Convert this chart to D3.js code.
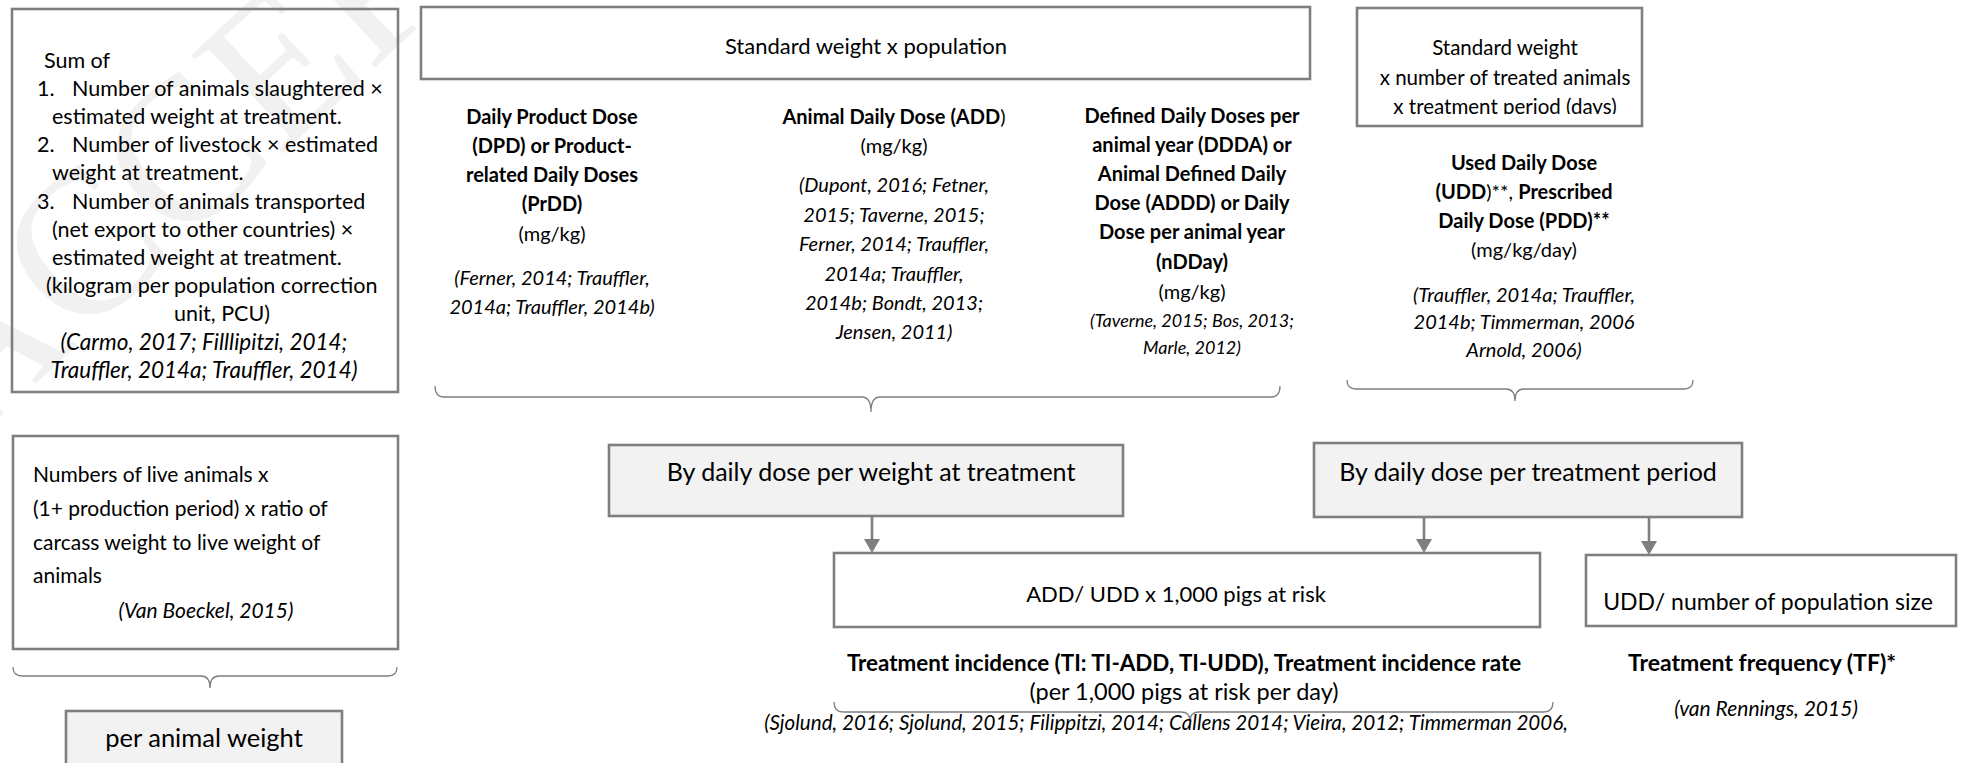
<!DOCTYPE html>
<html>
<head>
<meta charset="utf-8">
<script src="https://cdn.jsdelivr.net/npm/d3@7"></script>
<style>
  html, body { margin: 0; padding: 0; background: #fff; }
  svg { display: block; }
  text { font-family: Lato, "Open Sans", sans-serif; fill: #000; }
</style>
</head>
<body>
<svg id="diagram"></svg>
<script>
// ---- content (text only) ----
// each line: runs separated by "~", each run is "style|text" (b bold, r regular, i italic, s small italic)
const sumOfLines = [
    ['', 'Sum of'],
    ['1.', 'Number of animals slaughtered ×'],
    ['', 'estimated weight at treatment.'],
    ['2.', 'Number of livestock × estimated'],
    ['', 'weight at treatment.'],
    ['3.', 'Number of animals transported'],
    ['', '(net export to other countries) ×'],
    ['', 'estimated weight at treatment.'],
    ['', '(kilogram per population correction'],
    ['', 'unit, PCU)']
];
const sumOfRefs = ['i|(Carmo, 2017; Filllipitzi, 2014;', 'i|Trauffler, 2014a; Trauffler, 2014)'];

const liveLines = ['Numbers of live animals x', '(1+ production period) x ratio of',
    'carcass weight to live weight of', 'animals'];
const liveRefs = ['i|(Van Boeckel, 2015)'];

const dpdLines = ['b|Daily Product Dose', 'b|(DPD) or Product-', 'b|related Daily Doses', 'b|(PrDD)',
    'r|(mg/kg)', 'i|(Ferner, 2014; Trauffler,', 'i|2014a; Trauffler, 2014b)'];
const addLines = ['b|Animal Daily Dose (ADD~r|)', 'r|(mg/kg)', 'i|(Dupont, 2016; Fetner,',
    'i|2015; Taverne, 2015;', 'i|Ferner, 2014; Trauffler,', 'i|2014a; Trauffler,',
    'i|2014b; Bondt, 2013;', 'i|Jensen, 2011)'];
const dddaLines = ['b|Defined Daily Doses per', 'b|animal year (DDDA) or', 'b|Animal Defined Daily',
    'b|Dose (ADDD) or Daily', 'b|Dose per animal year', 'b|(nDDay)', 'r|(mg/kg)',
    's|(Taverne, 2015; Bos, 2013;', 's|Marle, 2012)'];
const stdTreatLines = ['r|Standard weight', 'r|x number of treated animals', 'r|x treatment period (days)'];
const uddLines = ['b|Used Daily Dose', 'b|(UDD~r|)**, ~b|Prescribed', 'b|Daily Dose (PDD)**',
    'r|(mg/kg/day)', 'i|(Trauffler, 2014a; Trauffler,', 'i|2014b; Timmerman, 2006', 'i|Arnold, 2006)'];
const tiTitle = ['b|Treatment incidence (TI: TI-ADD, TI-UDD), Treatment incidence rate'];
const tiUnit = ['r|(per 1,000 pigs at risk per day)'];
const tiRefs = ['i|(Sjolund, 2016; Sjolund, 2015; Filippitzi, 2014; Callens 2014; Vieira, 2012; Timmerman 2006,'];
const tfTitle = ['b|Treatment frequency (TF)*'];
const tfRefs = ['i|(van Rennings, 2015)'];

const boxLabels = {
    stdPop: 'Standard weight x population',
    byWeight: 'By daily dose per weight at treatment',
    byPeriod: 'By daily dose per treatment period',
    addBox: 'ADD/ UDD x 1,000 pigs at risk',
    uddBox: 'UDD/ number of population size',
    perAnimal: 'per animal weight'
};

// ---- layout (page units) ----
const size = { w: 1962, h: 763 };
const x = d3.scaleLinear().domain([0, size.w]).range([0, size.w]);
const y = d3.scaleLinear().domain([0, size.h]).range([0, size.h]);

const boxes = [
    { id: 'sum', x0: 12, y0: 9, x1: 398, y1: 392 },
    { id: 'live', x0: 13, y0: 436, x1: 398, y1: 649 },
    { id: 'perAnimal', x0: 66, y0: 711, x1: 342, y1: 800, grey: true, tx: 204, ty: 738, fs: 25.5 },
    { id: 'stdPop', x0: 421, y0: 7, x1: 1310, y1: 79, tx: 866, ty: 46, fs: 22 },
    { id: 'stdTreat', x0: 1357, y0: 8, x1: 1642, y1: 126 },
    { id: 'byWeight', x0: 609, y0: 445, x1: 1123, y1: 516, grey: true, tx: 871, ty: 472, fs: 25 },
    { id: 'byPeriod', x0: 1314, y0: 443, x1: 1742, y1: 517, grey: true, tx: 1528, ty: 472, fs: 25 },
    { id: 'addBox', x0: 834, y0: 553, x1: 1540, y1: 627, tx: 1176, ty: 594, fs: 22 },
    { id: 'uddBox', x0: 1586, y0: 555, x1: 1956, y1: 626, tx: 1768, ty: 602, fs: 23 }
];

const braces = [
    { x0: 13, x1: 397, xt: 210, top: 667, line: 676, tip: 688 },
    { x0: 435, x1: 1280, xt: 871, top: 386, line: 397, tip: 412 },
    { x0: 1347, x1: 1693, xt: 1515, top: 380, line: 389, tip: 401 },
    { x0: 834, x1: 1553, xt: 1190, top: 702, line: 712, tip: 721 }
];

const arrows = [
    { x: 872, y0: 516, y1: 553 },
    { x: 1424, y0: 517, y1: 553 },
    { x: 1649, y0: 517, y1: 555 }
];

const grey = '#7f7f7f';

const svg = d3.select('svg#diagram')
    .attr('width', size.w)
    .attr('height', size.h)
    .attr('viewBox', `0 0 ${size.w} ${size.h}`);

// faint watermark, mostly off the page like the original
svg.append('text')
    .attr('transform', `translate(${x(-30)}, ${y(445)}) rotate(-43)`)
    .style('font-family', '"Liberation Serif", serif')
    .style('font-size', '205px')
    .style('fill', '#f1f1f1')
    .text('ACCEPTED');

const g = svg.append('g');

// boxes
g.selectAll('rect.box')
    .data(boxes)
    .join('rect')
    .classed('box', true)
    .attr('x', d => x(d.x0))
    .attr('y', d => y(d.y0))
    .attr('width', d => x(d.x1) - x(d.x0))
    .attr('height', d => y(d.y1) - y(d.y0))
    .attr('fill', d => d.grey ? '#f2f2f2' : 'none')
    .attr('stroke', grey)
    .attr('stroke-width', 2.6);

// single-line box labels
g.selectAll('text.label')
    .data(boxes.filter(d => boxLabels[d.id]))
    .join('text')
    .classed('label', true)
    .attr('x', d => x(d.tx))
    .attr('y', d => y(d.ty))
    .attr('dy', '0.35em')
    .attr('text-anchor', 'middle')
    .style('font-size', d => d.fs + 'px')
    .text(d => boxLabels[d.id]);

// braces
function bracePath(b) {
    const r = 9, p = d3.path();
    p.moveTo(x(b.x0), y(b.top));
    p.quadraticCurveTo(x(b.x0), y(b.line), x(b.x0 + r), y(b.line));
    p.lineTo(x(b.xt - r), y(b.line));
    p.quadraticCurveTo(x(b.xt), y(b.line), x(b.xt), y(b.tip));
    p.quadraticCurveTo(x(b.xt), y(b.line), x(b.xt + r), y(b.line));
    p.lineTo(x(b.x1 - r), y(b.line));
    p.quadraticCurveTo(x(b.x1), y(b.line), x(b.x1), y(b.top));
    return p.toString();
}
g.selectAll('path.brace')
    .data(braces)
    .join('path')
    .classed('brace', true)
    .attr('d', bracePath)
    .attr('fill', 'none')
    .attr('stroke', grey)
    .attr('stroke-width', 1.3);

// arrows
g.selectAll('line.arrow')
    .data(arrows)
    .join('line')
    .classed('arrow', true)
    .attr('x1', d => x(d.x)).attr('x2', d => x(d.x))
    .attr('y1', d => y(d.y0)).attr('y2', d => y(d.y1 - 12))
    .attr('stroke', grey)
    .attr('stroke-width', 2.6);
g.selectAll('path.head')
    .data(arrows)
    .join('path')
    .classed('head', true)
    .attr('d', d => `M${x(d.x - 8)},${y(d.y1 - 14)}L${x(d.x + 8)},${y(d.y1 - 14)}L${x(d.x)},${y(d.y1)}Z`)
    .attr('fill', grey);

// multi-line text blocks
const runStyle = {
    b: { weight: 700, italic: false, scale: 1 },
    r: { weight: 400, italic: false, scale: 1 },
    i: { weight: 400, italic: true, scale: 1 },
    s: { weight: 400, italic: true, scale: 0.9 }
};

function drawBlock(lines, opt) {
    const blk = g.append('g');
    if (opt.clip) blk.attr('clip-path', `url(#${opt.clip})`);
    lines.forEach((line, i) => {
        const t = blk.append('text')
            .attr('x', x(opt.x))
            .attr('y', y(opt.ys[i]))
            .attr('dy', '0.35em')
            .attr('text-anchor', opt.anchor || 'middle')
            .style('font-size', opt.fs + 'px');
        line.split('~').forEach(run => {
            const [k, txt] = run.split('|');
            const st = runStyle[k];
            t.append('tspan')
                .style('font-weight', st.weight)
                .style('font-style', st.italic ? 'italic' : 'normal')
                .style('font-size', (opt.fs * st.scale) + 'px')
                .text(txt);
        });
    });
}

// left "sum of" box, numbered list
const sumX = { num: 37, text: 72, plain: 44, indent: 52, hang: 46 };
const sumKind = ['plain', 'num', 'indent', 'num', 'indent', 'num', 'indent', 'indent', 'hang', 'center'];
const sumY = d3.range(sumOfLines.length).map(i => 60 + i * 28.2);
sumOfLines.forEach(([n, txt], i) => {
    const kind = sumKind[i];
    if (n) {
        g.append('text').attr('x', x(sumX.num)).attr('y', y(sumY[i])).attr('dy', '0.35em')
            .style('font-size', '21.5px').text(n);
    }
    g.append('text')
        .attr('x', kind === 'center' ? x(222) : x(n ? sumX.text : sumX[kind]))
        .attr('y', y(sumY[i]))
        .attr('dy', '0.35em')
        .attr('text-anchor', kind === 'center' ? 'middle' : 'start')
        .style('font-size', '21.5px')
        .text(txt);
});
drawBlock(sumOfRefs, { x: 204, ys: [342, 370], fs: 22.5 });

// live animals box
liveLines.forEach((txt, i) => {
    g.append('text').attr('x', x(33)).attr('y', y(475 + i * 33.7)).attr('dy', '0.35em')
        .style('font-size', '21px').text(txt);
});
drawBlock(liveRefs, { x: 206, ys: [611], fs: 21 });

// metric columns
drawBlock(dpdLines, { x: 552, ys: [117, 146, 175, 204, 234, 278, 307], fs: 20 });
drawBlock(addLines, { x: 894, ys: [117, 146, 185, 215, 244, 274, 303, 332], fs: 20 });
drawBlock(dddaLines, { x: 1192, ys: [116, 145, 174, 203, 232, 262, 292, 320, 347], fs: 20 });

svg.append('clipPath').attr('id', 'clipTreat')
    .append('rect').attr('x', x(1357)).attr('y', y(8)).attr('width', x(285)).attr('height', y(106));
drawBlock(stdTreatLines, { x: 1505, ys: [48, 78, 107], fs: 20.5, clip: 'clipTreat' });
drawBlock(uddLines, { x: 1524, ys: [163, 192, 221, 250, 295, 322, 350], fs: 20 });

// bottom results
drawBlock(tiTitle, { x: 1184, ys: [663], fs: 22.4 });
drawBlock(tiUnit, { x: 1184, ys: [692], fs: 23.5 });
drawBlock(tiRefs, { x: 1166, ys: [723], fs: 20.6 });
drawBlock(tfTitle, { x: 1762, ys: [663], fs: 23 });
drawBlock(tfRefs, { x: 1766, ys: [709], fs: 21 });
</script>
</body>
</html>
